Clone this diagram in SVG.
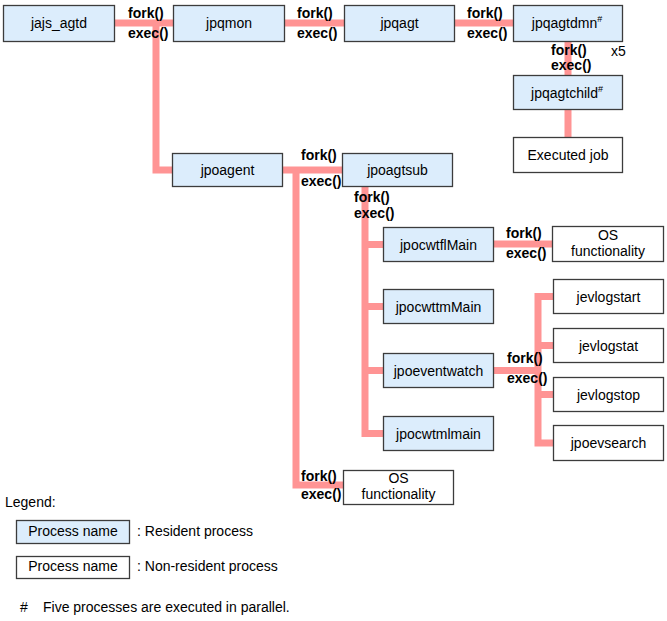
<svg xmlns="http://www.w3.org/2000/svg" width="667" height="621" viewBox="0 0 667 621">
<style>
  text { font-family: "Liberation Sans", Arial, sans-serif; font-size: 14px; fill: #000; }
  .lbl { font-weight: bold; }
  .c { text-anchor: middle; }
  .res { fill: #DCEDFC; stroke: #3c3c3c; stroke-width: 1.3; }
  .non { fill: #FFFFFF; stroke: #3c3c3c; stroke-width: 1.3; }
  .conn { fill: none; stroke: #FF9494; stroke-width: 7; stroke-linejoin: miter; stroke-linecap: butt; }
</style>
<rect width="667" height="621" fill="#FFFFFF"/>

<g id="connectors">
  <path class="conn" d="M115,23 H173 M156,23 V170 H172"/>
  <path class="conn" d="M285,23 H344"/>
  <path class="conn" d="M455,23 H513"/>
  <path class="conn" d="M568,41 V75 M568,110 V137"/>
  <path class="conn" d="M283,170 H342 M296,170 V485 H343"/>
  <path class="conn" d="M365,187 V433.5 H383 M365,244.5 H383 M365,306.5 H383 M365,370.5 H383"/>
  <path class="conn" d="M494,244 H552"/>
  <path class="conn" d="M494,370.5 H538 M553,296.5 H538 V443 H553 M538,345.5 H553 M538,394.5 H553"/>
</g>

<g id="labels">
  <text class="lbl" x="128" y="18">fork()</text>
  <text class="lbl" x="128" y="38">exec()</text>
  <text class="lbl" x="297" y="18">fork()</text>
  <text class="lbl" x="297" y="38">exec()</text>
  <text class="lbl" x="467" y="18">fork()</text>
  <text class="lbl" x="467" y="38">exec()</text>
  <text class="lbl" x="551" y="55">fork()</text>
  <text class="lbl" x="551" y="70">exec()</text>
  <text x="611" y="56">x5</text>
  <text class="lbl" x="301" y="160">fork()</text>
  <text class="lbl" x="301" y="186">exec()</text>
  <text class="lbl" x="354" y="202">fork()</text>
  <text class="lbl" x="354" y="218">exec()</text>
  <text class="lbl" x="506" y="238">fork()</text>
  <text class="lbl" x="506" y="258">exec()</text>
  <text class="lbl" x="507" y="363">fork()</text>
  <text class="lbl" x="507" y="383">exec()</text>
  <text class="lbl" x="301" y="481">fork()</text>
  <text class="lbl" x="301" y="499">exec()</text>
</g>

<g id="n-jajs_agtd"><rect class="res" x="3.5" y="5.5" width="111" height="36"/><text class="c" x="59" y="28">jajs_agtd</text></g>
<g id="n-jpqmon"><rect class="res" x="173.5" y="5.5" width="111" height="36"/><text class="c" x="229" y="28">jpqmon</text></g>
<g id="n-jpqagt"><rect class="res" x="344.5" y="5.5" width="110" height="36"/><text class="c" x="399.5" y="28">jpqagt</text></g>
<g id="n-jpqagtdmn"><rect class="res" x="513.5" y="5.5" width="109" height="36"/><text class="c" x="567" y="28">jpqagtdmn<tspan font-size="9" dy="-6">#</tspan></text></g>
<g id="n-jpqagtchild"><rect class="res" x="513.5" y="75.5" width="109" height="34"/><text class="c" x="567" y="98">jpqagtchild<tspan font-size="9" dy="-6">#</tspan></text></g>
<g id="n-executed-job"><rect class="non" x="513.5" y="137.5" width="109" height="35"/><text class="c" x="568" y="160">Executed job</text></g>

<g id="n-jpoagent"><rect class="res" x="172.5" y="153.5" width="110" height="33"/><text class="c" x="227.5" y="175">jpoagent</text></g>
<g id="n-jpoagtsub"><rect class="res" x="342.5" y="153.5" width="110" height="33"/><text class="c" x="397.5" y="175">jpoagtsub</text></g>

<g id="n-jpocwtflMain"><rect class="res" x="383.5" y="227.5" width="110" height="34"/><text class="c" x="438.5" y="249.5">jpocwtflMain</text></g>
<g id="n-os1"><rect class="non" x="552.5" y="226.5" width="111" height="35"/><text class="c" x="608" y="240">OS</text><text class="c" x="608" y="256">functionality</text></g>
<g id="n-jpocwttmMain"><rect class="res" x="383.5" y="289.5" width="110" height="34"/><text class="c" x="438.5" y="311.5">jpocwttmMain</text></g>
<g id="n-jpoeventwatch"><rect class="res" x="383.5" y="353.5" width="110" height="34"/><text class="c" x="438.5" y="375.5">jpoeventwatch</text></g>
<g id="n-jpocwtmlmain"><rect class="res" x="383.5" y="416.5" width="110" height="34"/><text class="c" x="438.5" y="438.5">jpocwtmlmain</text></g>

<g id="n-jevlogstart"><rect class="non" x="553.5" y="279.5" width="110" height="34"/><text class="c" x="608.5" y="301.5">jevlogstart</text></g>
<g id="n-jevlogstat"><rect class="non" x="553.5" y="328.5" width="110" height="34"/><text class="c" x="608.5" y="350.5">jevlogstat</text></g>
<g id="n-jevlogstop"><rect class="non" x="553.5" y="377.5" width="110" height="34"/><text class="c" x="608.5" y="399.5">jevlogstop</text></g>
<g id="n-jpoevsearch"><rect class="non" x="553.5" y="425.5" width="110" height="35"/><text class="c" x="608.5" y="448">jpoevsearch</text></g>

<g id="n-os2"><rect class="non" x="343.5" y="470.5" width="110" height="34"/><text class="c" x="398.5" y="483">OS</text><text class="c" x="398.5" y="499">functionality</text></g>

<g id="legend">
  <text x="5" y="507">Legend:</text>
  <rect class="res" x="16.5" y="520.5" width="113" height="23"/>
  <text class="c" x="73" y="536">Process name</text>
  <text x="137" y="536">: Resident process</text>
  <rect class="non" x="16.5" y="556.5" width="113" height="22"/>
  <text class="c" x="73" y="571">Process name</text>
  <text x="137" y="571">: Non-resident process</text>
  <text x="20" y="612">#</text>
  <text x="43" y="612">Five processes are executed in parallel.</text>
</g>
</svg>
